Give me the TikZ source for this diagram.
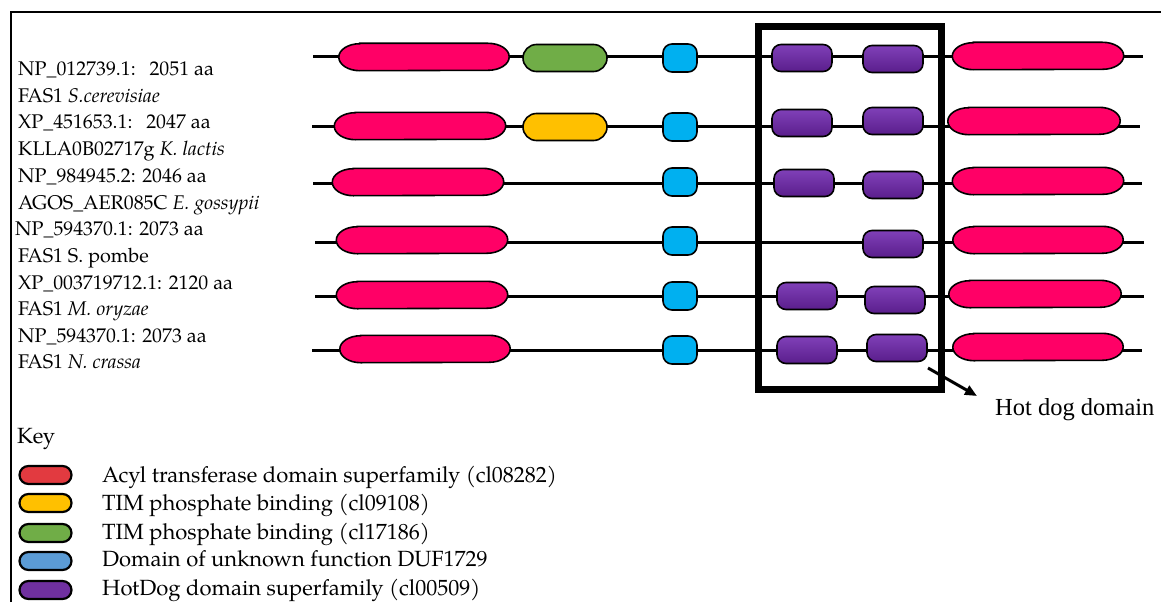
\documentclass[tikz,border=0pt]{standalone}
\usepackage{fontspec}
\setmainfont{texgyrepagella-regular.otf}[ItalicFont=texgyrepagella-italic.otf]
\newfontfamily\timesf{Liberation Serif}
\usetikzlibrary{shapes.misc,arrows.meta}
\definecolor{dRed}{HTML}{FF0066}
\definecolor{dGreen}{HTML}{70AD47}
\definecolor{dYel}{HTML}{FFC000}
\definecolor{dBlue}{HTML}{00B0F0}
\definecolor{pTop}{HTML}{8040B8}
\definecolor{pBot}{HTML}{5A1E8C}
\definecolor{kRed}{HTML}{E23A40}
\definecolor{kBlue}{HTML}{5B9BD5}
\definecolor{kPur}{HTML}{7030A0}
\begin{document}
\begin{tikzpicture}[x=1pt,y=-1pt,
  backbone/.style={line width=3pt},
  dom/.style={draw=black, line width=1.6pt, inner sep=0pt, minimum height=27pt},
  redcap/.style={rectangle, inner sep=0pt, minimum height=27pt, draw=none,
    append after command={\pgfextra{\begin{pgfinterruptpath}
      \filldraw[fill=dRed,draw=black,line width=1.6pt]
        ([xshift=21pt]\tikzlastnode.north west) -- ([xshift=-21pt]\tikzlastnode.north east)
        arc[start angle=90,end angle=-90,x radius=21pt,y radius=13.5pt]
        -- ([xshift=21pt]\tikzlastnode.south west)
        arc[start angle=270,end angle=90,x radius=21pt,y radius=13.5pt] -- cycle;
    \end{pgfinterruptpath}}}},
  capsule/.style={dom, rounded rectangle},
  dgreen/.style={capsule, fill=dGreen, minimum width=84pt},
  dyel/.style={capsule, fill=dYel, minimum width=84pt},
  dblue/.style={dom, rectangle, rounded corners=9pt, fill=dBlue, minimum width=34pt, minimum height=28pt},
  dpur/.style={dom, rectangle, rounded corners=9pt, top color=pTop, bottom color=pBot, minimum width=60pt, minimum height=27pt},
  lbl/.style={anchor=base west, inner sep=0pt, font=\fontsize{19.8}{22}\selectfont},
  klbl/.style={anchor=base west, inner sep=0pt, font=\fontsize{22}{24}\selectfont},
  keycap/.style={draw=black, line width=2.2pt, rounded rectangle, inner sep=0pt, minimum width=52pt, minimum height=18pt},
  hotbox/.style={draw=black, line width=7pt},
  frame/.style={draw=black, line width=2pt},
  arr/.style={-{Triangle[length=12pt,width=10pt]}, line width=3pt}
]
\useasboundingbox (0,0) rectangle (1161,602);
\fill[white] (0,0) rectangle (1161,602);
\draw[frame] (11,602) -- (11,12) -- (1161,12);

% ---- backbones
\coordinate (s1) at (313,57);  \coordinate (e1) at (1143,57);
\coordinate (s2) at (312,126); \coordinate (e2) at (1140,126);
\coordinate (s3) at (313,183); \coordinate (e3) at (1142,183);
\coordinate (s4) at (315,242); \coordinate (e4) at (1144,242);
\coordinate (s5) at (315,296); \coordinate (e5) at (1144,296);
\coordinate (s6) at (312,350); \coordinate (e6) at (1142,350);
\foreach \i in {1,...,6} \draw[backbone] (s\i) -- (e\i);

% ---- row 1
\node[redcap, minimum width=170pt] (r1a) at (424,57) {};
\node[dgreen] (g1) at (565,58) {};
\node[dblue] (b1) at (680,58) {};
\node[dpur] (p1a) at (802,58) {};
\node[dpur] (p1b) at (893,59) {};
\node[redcap, minimum width=171pt] (r1b) at (1038,56) {};
% ---- row 2
\node[redcap, minimum width=171pt] (r2a) at (420,126) {};
\node[dyel] (y2) at (565,127) {};
\node[dblue] (b2) at (680,127) {};
\node[dpur] (p2a) at (802,123) {};
\node[dpur] (p2b) at (893,121) {};
\node[redcap, minimum width=172pt] (r2b) at (1034,121) {};
% ---- row 3
\node[redcap, minimum width=171pt] (r3a) at (418,182) {};
\node[dblue] (b3) at (680,182) {};
\node[dpur] (p3a) at (804,183) {};
\node[dpur] (p3b) at (893,185) {};
\node[redcap, minimum width=171pt] (r3b) at (1038,181) {};
% ---- row 4
\node[redcap, minimum width=171pt] (r4a) at (422,240) {};
\node[dblue] (b4) at (680,241) {};
\node[dpur] (p4b) at (893,244) {};
\node[redcap, minimum width=170pt] (r4b) at (1038,240) {};
% ---- row 5
\node[redcap, minimum width=171pt] (r5a) at (422,295) {};
\node[dblue] (b5) at (680,296) {};
\node[dpur] (p5a) at (807,296) {};
\node[dpur] (p5b) at (895,300) {};
\node[redcap, minimum width=172pt] (r5b) at (1035,294) {};
% ---- row 6
\node[redcap, minimum width=170pt] (r6a) at (425,349) {};
\node[dblue] (b6) at (680,350) {};
\node[dpur] (p6a) at (807,350) {};
\node[dpur] (p6b) at (897,348) {};
\node[redcap, minimum width=170pt] (r6b) at (1038,347) {};

% ---- hot dog box
\draw[hotbox] (758,27) rectangle (941,389);
\coordinate (a0) at (928,368);
\coordinate (a1) at (977,396);
\draw[arr] (a0) -- (a1);
\node[anchor=base west, inner sep=0pt, font=\timesf\fontsize{24.5}{26}\selectfont] (hd) at (995,415) {Hot dog domain};

% ---- left labels
\node[lbl] (t1) at (18,75) {NP\_012739.1:\hspace{0.7em}2051 aa};
\node[lbl] (t2) at (18,102) {FAS1 \textit{S.cerevisiae}};
\node[lbl] (t3) at (18,128) {XP\_451653.1:\hspace{0.7em}2047 aa};
\node[lbl] (t4) at (18,155) {KLLA0B02717g \textit{K. lactis}};
\node[lbl] (t5) at (18,182) {NP\_984945.2: 2046 aa};
\node[lbl] (t6) at (18,209) {AGOS\_AER085C \textit{E. gossypii}};
\node[lbl] (t7) at (15,235) {NP\_594370.1: 2073 aa};
\node[lbl] (t8) at (18,262) {FAS1 S. pombe};
\node[lbl] (t9) at (18,289) {XP\_003719712.1: 2120 aa};
\node[lbl] (t10) at (18,315) {FAS1 \textit{M. oryzae}};
\node[lbl] (t11) at (18,342) {NP\_594370.1: 2073 aa};
\node[lbl] (t12) at (18,368) {FAS1 \textit{N. crassa}};

% ---- key
\node[klbl] (key) at (17,443) {Key};
\node[keycap, fill=kRed] (k1) at (45.5,475) {};
\node[keycap, fill=dYel] (k2) at (45.5,503) {};
\node[keycap, fill=dGreen] (k3) at (45.5,533) {};
\node[keycap, fill=kBlue] (k4) at (45.5,561) {};
\node[keycap, fill=kPur] (k5) at (45.5,590) {};
\node[klbl] (kt1) at (102,482) {Acyl transferase domain superfamily (cl08282)};
\node[klbl] (kt2) at (102,510) {TIM phosphate binding (cl09108)};
\node[klbl] (kt3) at (102,539) {TIM phosphate binding (cl17186)};
\node[klbl] (kt4) at (102,566) {Domain of unknown function DUF1729};
\node[klbl] (kt5) at (102,595) {HotDog domain superfamily (cl00509)};
\end{tikzpicture}
\end{document}
